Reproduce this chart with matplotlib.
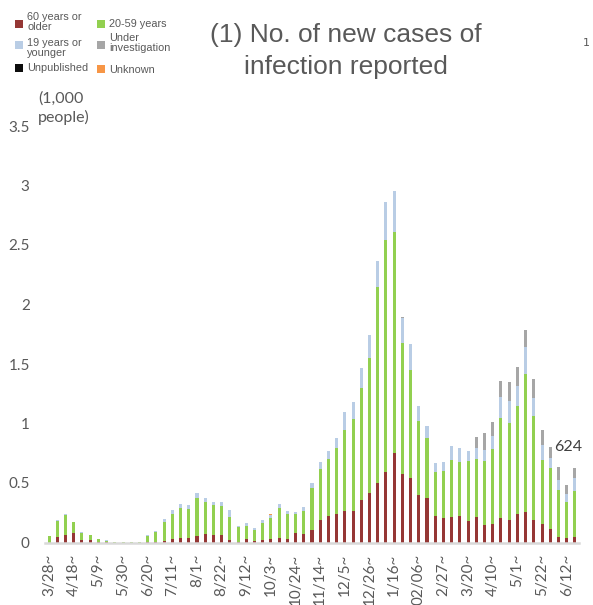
import matplotlib
matplotlib.use("Agg")
import matplotlib.pyplot as plt
from matplotlib.patches import Rectangle
import numpy as np

# weekly new cases (1,000 people), weeks starting 3/28 ... 6/19
tick_labels = ["3/28~", "4/18~", "5/9~", "5/30~", "6/20~", "7/11~", "8/1~", "8/22~",
               "9/12~", "10/3~", "10/24~", "11/14~", "12/5~", "12/26~", "1/16~",
               "02/06~", "2/27~", "3/20~", "4/10~", "5/1~", "5/22~", "6/12~"]

age_60_plus = [0.000, 0.047, 0.064, 0.081, 0.020, 0.020, 0.003, 0.002, 0.000, 0.000,
               0.000, 0.000, 0.002, 0.004, 0.011, 0.031, 0.042, 0.039, 0.056, 0.073,
               0.061, 0.059, 0.025, 0.008, 0.028, 0.014, 0.020, 0.028, 0.036, 0.031,
               0.084, 0.075, 0.109, 0.187, 0.226, 0.243, 0.268, 0.268, 0.360, 0.413,
               0.500, 0.592, 0.754, 0.572, 0.544, 0.402, 0.371, 0.223, 0.209, 0.218,
               0.220, 0.184, 0.218, 0.151, 0.159, 0.209, 0.193, 0.243, 0.260, 0.193,
               0.156, 0.117, 0.045, 0.042, 0.045]
age_20_59 = [0.054, 0.133, 0.168, 0.089, 0.064, 0.044, 0.025, 0.013, 0.003, 0.002,
             0.006, 0.003, 0.052, 0.085, 0.162, 0.209, 0.248, 0.240, 0.318, 0.265,
             0.252, 0.245, 0.190, 0.120, 0.112, 0.089, 0.145, 0.179, 0.257, 0.206,
             0.159, 0.187, 0.346, 0.433, 0.478, 0.547, 0.676, 0.768, 0.941, 1.136,
             1.644, 1.946, 1.859, 1.103, 0.905, 0.623, 0.508, 0.371, 0.394, 0.472,
             0.458, 0.503, 0.486, 0.536, 0.628, 0.835, 0.815, 0.902, 1.153, 0.868,
             0.536, 0.511, 0.396, 0.301, 0.391]
age_19_under = [0.003, 0.013, 0.008, 0.006, 0.003, 0.003, 0.003, 0.002, 0.000, 0.000,
                0.001, 0.000, 0.005, 0.006, 0.025, 0.030, 0.037, 0.034, 0.045, 0.033,
                0.030, 0.034, 0.056, 0.014, 0.022, 0.017, 0.025, 0.022, 0.034, 0.028,
                0.011, 0.037, 0.042, 0.058, 0.067, 0.089, 0.153, 0.145, 0.162, 0.193,
                0.223, 0.324, 0.338, 0.215, 0.223, 0.120, 0.098, 0.077, 0.073, 0.122,
                0.120, 0.078, 0.089, 0.089, 0.106, 0.176, 0.178, 0.167, 0.226, 0.153,
                0.126, 0.081, 0.084, 0.067, 0.106]
under_investigation = [0.000, 0.000, 0.000, 0.000, 0.000, 0.000, 0.000, 0.000, 0.000, 0.000,
                       0.000, 0.000, 0.000, 0.000, 0.000, 0.000, 0.000, 0.000, 0.000, 0.000,
                       0.000, 0.000, 0.000, 0.000, 0.000, 0.000, 0.000, 0.000, 0.000, 0.000,
                       0.000, 0.000, 0.000, 0.000, 0.000, 0.000, 0.000, 0.000, 0.000, 0.000,
                       0.000, 0.000, 0.006, 0.008, 0.000, 0.000, 0.000, 0.000, 0.000, 0.000,
                       0.000, 0.000, 0.092, 0.142, 0.123, 0.134, 0.162, 0.165, 0.150, 0.157,
                       0.126, 0.092, 0.109, 0.070, 0.082]
unpublished = [0.0] * 65
unknown = [0.000, 0.000, 0.000, 0.000, 0.000, 0.000, 0.000, 0.000, 0.000, 0.000,
           0.000, 0.000, 0.000, 0.000, 0.000, 0.000, 0.000, 0.000, 0.000, 0.000,
           0.000, 0.000, 0.000, 0.000, 0.000, 0.000, 0.000, 0.008, 0.000, 0.000,
           0.000, 0.000, 0.000, 0.000, 0.000, 0.000, 0.000, 0.000, 0.000, 0.000,
           0.000, 0.000, 0.000, 0.000, 0.000, 0.000, 0.000, 0.000, 0.000, 0.000,
           0.000, 0.000, 0.000, 0.000, 0.000, 0.000, 0.000, 0.000, 0.000, 0.000,
           0.000, 0.000, 0.000, 0.000, 0.000]

series_names = ["60 years or\nolder", "20-59 years", "19 years or\nyounger",
                "Under\ninvestigation", "Unpublished", "Unknown"]
series_colors = ["#953735", "#92D050", "#B9CDE5", "#A6A6A6", "#0D0D0D", "#F79646"]
series = [age_60_plus, age_20_59, age_19_under, under_investigation, unpublished, unknown]

last_label = "624"

GRAY = "#595959"
W, H = 593, 605

fig = plt.figure(figsize=(W / 100, H / 100), dpi=100)
ax = fig.add_axes([45 / W, 1 - 542.5 / H, (579 - 45) / W, (542.5 - 126) / H])

x = np.arange(len(age_60_plus))
bottom = np.zeros(len(x))
for vals, color in zip(series, series_colors):
    vals = np.array(vals)
    ax.bar(x, vals, bottom=bottom, width=0.37, color=color, linewidth=0)
    bottom += vals

ax.set_xlim(-0.5, len(x) - 0.5)
ax.set_ylim(0, 3.5)
ax.set_yticks(np.arange(0, 3.51, 0.5))
ax.set_yticklabels(["0", "0.5", "1", "1.5", "2", "2.5", "3", "3.5"])
ax.set_xticks(x[::3])
ax.set_xticklabels(tick_labels, rotation=90)
for lab in ax.get_xticklabels() + ax.get_yticklabels():
    lab.set_family("Lato")
    lab.set_fontsize(11)
    lab.set_color(GRAY)
ax.tick_params(axis="y", length=0, pad=11)
ax.tick_params(axis="x", length=0, pad=8)
for side in ["left", "right", "top"]:
    ax.spines[side].set_visible(False)
ax.spines["bottom"].set_color("#D9D9D9")
ax.spines["bottom"].set_linewidth(1.8)

# value label on the last week
ax.annotate(last_label, (x[-1], bottom[-1]), xytext=(-5, 10), textcoords="offset points",
            ha="center", va="bottom", fontsize=11.5, family="Lato", color="#404040")

# title and unit
fig.text(346 / W, 1 - 51 / H, "(1) No. of new cases of\ninfection reported", ha="center",
         va="center", fontsize=19, family="Liberation Sans", color=GRAY, linespacing=1.38)
fig.text(38 / W, 1 - 108 / H, "(1,000\npeople)", ha="left", va="center", fontsize=11.5,
         family="Lato", color=GRAY, linespacing=1.35)
fig.text(583 / W, 1 - 43 / H, "1", ha="left", va="center", fontsize=8, color=GRAY)

# legend, two columns
legend_pos = [(15, 24, 27, 22), (97, 24, 109, 24), (15, 45, 27, 48),
              (97, 45, 109, 43), (15, 68, 27, 68), (97, 69, 109, 70)]
for name, color, (sx, sy, tx, ty) in zip(series_names, series_colors, legend_pos):
    fig.add_artist(Rectangle((sx / W, 1 - (sy + 4) / H), 8 / W, 8 / H,
                             transform=fig.transFigure, color=color, lw=0))
    fig.text(tx / W, 1 - ty / H, name, ha="left", va="center", fontsize=7.8,
             family="Liberation Sans", color=GRAY, linespacing=0.95)

fig.savefig("out.png", dpi=100)
